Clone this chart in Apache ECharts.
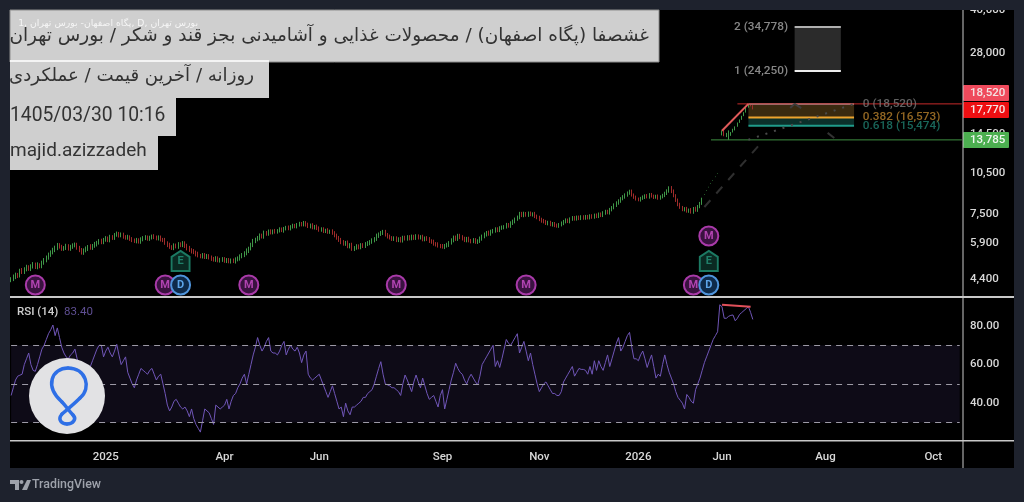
<!DOCTYPE html>
<html>
<head>
<meta charset="utf-8">
<style>html,body{margin:0;padding:0;background:#1e222d}#chart{width:1024px;height:502px}</style>
<script src="https://cdn.jsdelivr.net/npm/echarts@6/dist/echarts.min.js"></script>
</head>
<body>
<div id="chart"></div>
<script>
// Daily bars, one value per session; null marks the session with no printed bar.
const opens = [
4360,4410,4470,4550,4530,4720,4670,4770,4840,4780,4890,4960,4850,4940,4890,5030,5140,5250,5370,5480,
5590,5670,5800,5730,5630,5690,5770,5640,5730,5810,5830,5680,5590,5460,5570,5630,5740,5680,5790,5840,
5940,6020,5950,6090,6150,6050,6220,6160,6330,6390,6290,6350,6220,6180,6220,6110,6060,6000,6070,5980,
6100,6150,6200,6120,6180,6250,6200,6140,6200,6080,6070,5910,5820,5720,5670,5800,5740,5860,5810,5910,
5790,5670,5580,5530,5470,5400,5330,5290,5360,5270,5320,5240,5200,5150,5220,5120,5160,5190,5100,5150,
5080,5130,5090,5170,5210,5300,5355,5440,5550,5660,5830,6000,6100,6150,6300,6230,6440,6370,6510,6440,
6530,6480,6550,6620,6550,6650,6720,6660,6760,6820,6770,6870,6930,6880,6980,6870,6770,6850,6710,6770,
6690,6580,6630,6510,6570,6470,6520,6440,6290,6190,6070,5970,5870,5940,5750,5830,5630,5690,5760,5710,
5820,5770,5860,5910,5970,6040,6120,6270,6360,6410,6490,6330,6240,6170,6110,6160,6050,6120,6030,6190,
6120,6220,6140,6240,6160,6260,6180,6230,6090,6160,6120,6010,5980,5870,5850,5780,5770,5720,5790,5820,
5930,6040,6190,6110,6280,6200,6140,6050,6130,6030,6000,6070,5960,6020,6120,6250,6330,6440,6370,6500,
6530,6630,6560,6690,6710,6760,6870,6800,6960,7050,7190,7300,7510,7410,7520,7430,7540,7450,7510,7370,
7290,7180,7100,7050,6940,7000,6870,6930,6840,6790,6870,6940,7050,7130,7050,7190,7270,7200,7300,7230,
7320,7250,7340,7270,7380,7310,7420,7350,7490,7410,7560,7650,7570,7770,7890,8050,8200,8330,8490,8610,
8750,8890,9010,8750,8600,8470,8410,8520,8590,8700,8610,8780,8670,8600,8670,8530,8630,8710,8870,9030,
9290,9030,8700,8400,8110,7910,7760,7830,7670,7750,7610,7840,7730,7960,8170,8780,9090,9340,9600,9870,
10160,10460,null,14400,14800,14200,13785,14300,14700,14950,15400,15900,16300,16800,17300,18000,18500,18300];
const closes = [
4400,4470,4560,4520,4710,4680,4760,4830,4790,4880,4950,4860,4930,4900,5020,5150,5240,5380,5470,5600,
5680,5790,5740,5640,5680,5760,5650,5720,5800,5820,5690,5580,5470,5560,5640,5730,5690,5780,5850,5930,
6010,5960,6080,6140,6060,6210,6170,6320,6380,6300,6340,6230,6170,6210,6120,6050,6010,6060,5990,6090,
6160,6190,6130,6170,6240,6210,6150,6190,6090,6060,5920,5810,5730,5680,5790,5750,5850,5820,5900,5780,
5660,5590,5520,5480,5390,5340,5300,5350,5280,5310,5250,5190,5160,5210,5130,5150,5180,5110,5140,5090,
5120,5100,5160,5220,5290,5365,5430,5560,5650,5820,6010,6090,6160,6290,6240,6430,6380,6500,6450,6520,
6490,6540,6610,6560,6640,6710,6670,6750,6810,6780,6860,6920,6890,6970,6880,6780,6840,6720,6760,6680,
6590,6620,6520,6560,6480,6510,6430,6300,6180,6060,5960,5880,5930,5760,5820,5640,5680,5750,5720,5810,
5780,5850,5920,5960,6050,6110,6280,6350,6420,6480,6340,6230,6180,6120,6150,6060,6110,6040,6180,6130,
6210,6150,6230,6170,6250,6190,6220,6100,6150,6110,6020,5970,5880,5840,5790,5760,5730,5780,5830,5920,
6050,6180,6120,6270,6210,6130,6060,6120,6040,5990,6060,5970,6010,6130,6240,6340,6430,6380,6490,6540,
6620,6570,6680,6720,6750,6860,6810,6950,7060,7180,7290,7500,7420,7510,7440,7530,7460,7500,7360,7280,
7170,7090,7040,6950,6990,6880,6920,6830,6800,6860,6950,7040,7120,7060,7180,7260,7210,7290,7240,7310,
7260,7330,7280,7370,7320,7410,7360,7480,7420,7550,7640,7580,7760,7880,8060,8190,8340,8480,8620,8740,
8880,9000,8760,8590,8480,8420,8510,8600,8690,8620,8770,8680,8590,8660,8540,8620,8720,8860,9040,9270,
9020,8710,8390,8100,7920,7770,7820,7680,7740,7620,7830,7740,7950,8160,8480,8820,9130,9380,9640,9910,
10200,10500,null,14700,14300,14500,14100,14600,15000,15300,15800,16200,16700,17200,17900,18520,18200,17770];
const lows = [
4290,4330,4400,4440,4460,4590,4590,4690,4710,4700,4800,4780,4770,4810,4810,4950,5050,5160,5280,5390,
5490,5580,5650,5550,5550,5590,5560,5550,5640,5710,5600,5490,5380,5370,5480,5540,5600,5590,5690,5750,
5840,5860,5860,5980,5960,5950,6070,6070,6230,6190,6200,6130,6080,6080,6020,5960,5920,5900,5890,5880,
6000,6060,6030,6020,6090,6110,6050,6040,5990,5960,5830,5720,5640,5590,5580,5660,5640,5720,5720,5680,
5570,5500,5430,5400,5300,5260,5220,5210,5190,5190,5170,5110,5080,5070,5050,5040,5070,5030,5020,5010,
5000,5020,5000,5090,5120,5220,5270,5350,5450,5570,5720,5910,6000,6050,6140,6130,6280,6280,6350,6350,
6390,6390,6450,6470,6440,6560,6570,6560,6660,6680,6670,6770,6780,6780,6770,6690,6670,6620,6610,6580,
6490,6490,6420,6420,6380,6380,6330,6200,6080,5970,5860,5790,5780,5670,5660,5550,5540,5600,5620,5620,
5680,5680,5770,5810,5880,5950,6020,6170,6270,6320,6240,6140,6090,6020,6020,5960,5960,5940,5940,6040,
6030,6050,6050,6070,6070,6090,6090,6000,6000,6020,5920,5880,5790,5750,5700,5670,5650,5630,5700,5730,
5840,5950,6020,6020,6110,6040,5960,5950,5950,5900,5910,5880,5870,5920,6030,6150,6240,6280,6280,6400,
6440,6470,6470,6590,6620,6660,6710,6700,6860,6950,7100,7190,7320,7310,7340,7330,7370,7350,7260,7190,
7080,6990,6950,6860,6840,6790,6770,6740,6710,6700,6780,6850,6950,6970,6950,7100,7110,7110,7140,7140,
7160,7160,7180,7180,7220,7220,7260,7260,7320,7320,7460,7490,7470,7670,7800,7950,8100,8230,8400,8510,
8650,8790,8660,8500,8380,8330,8310,8430,8490,8530,8510,8590,8490,8510,8440,8440,8530,8620,8770,8940,
8910,8610,8290,8000,7830,7680,7670,7590,7580,7530,7520,7650,7640,7870,8090,8780,9090,9340,9600,9870,
10160,10460,null,14300,14200,14100,13785,14250,14650,14900,15350,15850,16250,16750,17250,17950,18150,17700];
const highs = [
4470,4570,4640,4630,4790,4820,4850,4950,4930,4970,5060,5040,5050,5010,5120,5230,5340,5470,5570,5690,
5790,5920,5910,5830,5770,5880,5860,5830,5900,5940,5930,5780,5680,5660,5750,5820,5860,5870,5970,6020,
6110,6130,6170,6260,6240,6330,6310,6420,6500,6480,6450,6440,6310,6330,6300,6210,6140,6170,6150,6200,
6260,6310,6290,6280,6340,6360,6290,6300,6290,6170,6170,6000,5930,5810,5900,5890,5960,5950,6010,6000,
5880,5780,5670,5630,5560,5510,5410,5450,5450,5410,5400,5340,5280,5310,5300,5240,5270,5270,5230,5230,
5210,5210,5260,5300,5390,5450,5530,5660,5740,5930,6120,6180,6270,6400,6390,6550,6530,6610,6620,6610,
6640,6630,6730,6720,6750,6810,6830,6850,6930,6920,6970,7040,7030,7090,7080,6990,6940,6960,6860,6880,
6780,6730,6730,6650,6680,6600,6620,6520,6390,6270,6170,6060,6020,6040,5910,5930,5770,5860,5850,5910,
5910,5960,6010,6060,6150,6210,6390,6450,6530,6590,6590,6420,6340,6260,6250,6250,6200,6220,6280,6280,
6310,6310,6340,6330,6360,6350,6310,6330,6240,6260,6210,6100,6080,5960,5950,5870,5870,5870,5930,6010,
6150,6290,6290,6380,6380,6310,6230,6220,6230,6120,6160,6160,6100,6240,6340,6450,6530,6550,6600,6640,
6730,6730,6790,6830,6850,6980,6970,7070,7170,7290,7410,7640,7640,7650,7630,7660,7660,7610,7640,7470,
7400,7280,7210,7150,7100,7100,7030,7030,6940,6970,7060,7150,7240,7230,7300,7380,7380,7410,7410,7430,
7430,7450,7450,7490,7490,7530,7540,7600,7600,7680,7770,7770,7890,8010,8190,8330,8470,8620,8760,8890,
9030,9160,9170,8880,8730,8590,8640,8740,8820,8840,8910,8920,8800,8790,8810,8750,8860,9010,9190,9420,
9440,9180,8830,8520,8230,8020,7940,7960,7850,7880,7950,7970,8080,8290,8580,8820,9130,9380,9640,9910,
10200,10500,null,14900,14900,14600,14900,14700,15100,15400,15900,16300,16800,17300,18000,18520,18520,18330];
const rsiValues = [
44,48,52,54,54.5,55,60,63,66,60,57,56.5,60,64,68,70,73,76,78,80.5,
75,79,74,69,66,64,63,65,66,68,63,60,59.5,59,59,58.5,59,62,65,68,
70,70,64,67,69,66,64,67,70.5,65,60,62,64,56,53,50,48,52,55,58,
57,56,55,57,58,55,52,54,55,50,45,39,36,38,41,42,40,38,37,38,
36,33,37,32,29,27,25,31,37,36,35,32,29,39,38,37,38,39,42,37,
41,44,45,48,50,53,55,50,55,60,65,69,74,70,67,69,72,74,67,66,
66,65,67,70,72,65,68,70,68,67,69,66,61,65,67,55,53,52,53,54,
55,52,49,46,43,46,49,45,41,37,38,33,40,36,34,38,38,39,40,41,
43,43,45,46,47,50,54,58,61.5,55,50,49.5,49,48,48,47,46,44,50,54.6,
52,49,46,51,54.6,51,48,53,49,45,42,43,44,41,38,44,47,37,42,47,
52,56,60.7,58,56,55,52,50,53,55,53,51,49.5,54,60,62,64,66,68,70,
59,62,58.5,63,68,73,71,70,72,74,76,66,69,72,67,62,66,60,55,50,
46,48,50,51,49,47,45,45,44,44,46,51,53,55,57,59,54,56,58,57.5,
57.5,57,55,59,55,62,57,62,59,57,61,65,59,63,67,71,74,67,69,72,
75,76.7,69,63,63,62,65,67,63,58.5,62,65,59,53,55,54,60,65,60,56,
53,50,46,43,41.5,40,37,44.5,43,41,40,47,50,53,57,61,64,67,70,73,
75,77,91,90,84,84,85,85.5,85.7,82.7,84,86,87,88,89,90,87,83.4];

// Time axis: sessions plus the blank space to the right of the last bar
const sessionCount = 433;
const timeTickIndex = [43, 97, 140, 196, 240, 285, 323, 370, 419];
const timeTickLabels = ['2025', 'Apr', 'Jun', 'Sep', 'Nov', '2026', 'Jun', 'Aug', 'Oct'];

const priceTicks = [4400, 5900, 7500, 10500, 14500, 28000, 40000];
const rsiTicks = [40, 60, 80];
const rsiBands = [70, 50, 30];

const priceTags = [18520, 17770, 13785];
const fibLevels = ['0', '0.382', '0.618'];
const fibPrices = [18520, 16573, 15474];
const targetLevels = ['2', '1'];
const targetPrices = [34778, 24250];

const monthEvents = [11, 70, 108, 175, 234, 310];
const earningsEvents = [77, 317];
const dividendEvents = [77, 317];
const lateMonthEvent = [317];
const lastRsi = 83.40;

const fmt = v => v.toLocaleString('en-US');
const FONT = 'Roboto';
const PANEL = '#1e222d';
const categories = Array.from({length: sessionCount}, (_, i) => String(i));
const bars = opens.map((o, i) => o === null ? ['-', '-', '-', '-'] : [o, closes[i], lows[i], highs[i]]);

// Straight drawing-tool segment on the price or RSI pane
function segment(points, color, width, type, pane) {
  return {
    type: 'line', xAxisIndex: pane || 0, yAxisIndex: pane || 0, data: points, silent: true,
    symbol: 'none', clip: false, z: 4, animation: false,
    lineStyle: {color, width, type: type || 'solid'}
  };
}
function pointMarker(level, indexes, symbol, size, fill, stroke, text, textColor) {
  return {
    type: 'scatter', xAxisIndex: 0, yAxisIndex: 0, silent: true, animation: false, z: 6, clip: false,
    data: indexes.map(i => [i, level]), symbol, symbolSize: size,
    itemStyle: {color: fill, borderColor: stroke, borderWidth: 2, opacity: 1},
    label: {show: true, position: 'inside', formatter: text, color: textColor, fontFamily: FONT, fontSize: 11, fontWeight: 'bold'}
  };
}
const BOTTOM_MARK = 4194, ROW2_MARK = 5107, ROW3_MARK = 6266;
const tagStyle = [
  {fill: '#ef4a5c', shift: -11, text: '#f3e4e4'},
  {fill: '#ee0f12', shift: 1, text: '#f7e6e6'},
  {fill: '#4caf50', shift: 0, text: '#eef6ee'}
];
const fibColors = ['#7a7a7a', '#b8812c', '#1f7f70'];
// Round-badge glyph, traced as cubic pieces
const badgeCurves = [
  [62, 402, 44, 386, 52, 368, 68, 368],
  [68, 368, 86, 368, 92, 388, 80, 398],
  [80, 398, 74, 404, 68, 409, 62, 414],
  [62, 414, 57, 420, 62, 424, 67, 424],
  [67, 424, 73, 424, 77, 419, 73, 415],
  [73, 415, 69, 411, 66, 406, 62, 402]
];
const scaleLabel = {color: '#d8d8d8', fontFamily: FONT, fontSize: 11.5, fontWeight: 500, margin: 7};

const option = {
  backgroundColor: PANEL,
  animation: false,
  grid: [
    {left: 10, top: 10, width: 953, height: 287},
    {left: 10, top: 298, width: 953, height: 143}
  ],
  xAxis: [
    {type: 'category', gridIndex: 0, data: categories, show: false},
    {type: 'category', gridIndex: 1, data: categories,
      axisLine: {show: false}, axisTick: {show: false},
      axisLabel: {
        interval: i => timeTickIndex.includes(i),
        formatter: (v, i) => timeTickLabels[timeTickIndex.indexOf(i)] || '',
        color: '#d8d8d8', fontFamily: FONT, fontSize: 11.5, fontWeight: 500, margin: 10, hideOverlap: false
      }}
  ],
  yAxis: [
    {type: 'log', gridIndex: 0, position: 'right', min: 3800, max: 40000, logBase: 10,
      axisLine: {show: false}, axisTick: {show: false}, splitLine: {show: false}, minorSplitLine: {show: false},
      axisLabel: {...scaleLabel, customValues: priceTicks, formatter: fmt}},
    {type: 'value', gridIndex: 1, position: 'right', min: 20.4, max: 94.5,
      axisLine: {show: false}, axisTick: {show: false}, splitLine: {show: false},
      axisLabel: {...scaleLabel, customValues: rsiTicks, formatter: v => v.toFixed(2)}}
  ],
  series: [
    // Fibonacci and target zones
    {type: 'line', xAxisIndex: 0, yAxisIndex: 0, data: [], silent: true, z: 1,
      markArea: {silent: true, data: [
        [{xAxis: 335, yAxis: fibPrices[0], itemStyle: {color: '#3a2a10'}}, {xAxis: 383, yAxis: fibPrices[1]}],
        [{xAxis: 335, yAxis: fibPrices[1], itemStyle: {color: '#0b302b'}}, {xAxis: 383, yAxis: fibPrices[2]}],
        [{xAxis: 356, yAxis: targetPrices[0], itemStyle: {color: '#2b2b2b'}}, {xAxis: 377, yAxis: targetPrices[1]}]
      ]}},
    {type: 'candlestick', xAxisIndex: 0, yAxisIndex: 0, data: bars, barWidth: 1, silent: true, z: 3,
      progressive: 0, animation: false,
      itemStyle: {color: '#3f9748', color0: '#a02c2a', borderColor: '#3f9748', borderColor0: '#a02c2a', borderWidth: 1}},

    segment([[335, fibPrices[0]], [383, fibPrices[0]]], '#8a8a8a', 2),
    segment([[335, fibPrices[1]], [383, fibPrices[1]]], '#eda32e', 2),
    segment([[335, fibPrices[2]], [383, fibPrices[2]]], '#1f9b8a', 2),
    segment([[356, targetPrices[0]], [377, targetPrices[0]]], '#b0b0b0', 2),
    segment([[356, targetPrices[1]], [377, targetPrices[1]]], '#ececec', 2),
    segment([[330, priceTags[0]], [432, priceTags[0]]], '#c62a2a', 1),
    segment([[318, priceTags[2]], [432, priceTags[2]]], '#3e8e41', 1),
    segment([[323, 14850], [335, 18520]], '#e05a5a', 2),
    segment([[315, 7950], [342, 13800]], '#2f2f2f', 2, [9, 9]),
    segment([[335, 13800], [383, 18520]], '#4a4a4a', 2, [2, 7]),
    segment([[371, 14600], [374, 14000]], '#333333', 2),
    segment([[354, 17900], [356, 18520], [359, 17900]], '#3d3d3d', 2),

    // Level captions
    {type: 'scatter', xAxisIndex: 0, yAxisIndex: 0, silent: true, symbolSize: 0, z: 5, clip: false,
      data: fibPrices.map((p, i) => ({value: [387, p], name: `${fibLevels[i]} (${fmt(p)})`,
        label: {color: fibColors[i]}})),
      label: {show: true, position: 'right', distance: 0, formatter: '{b}', fontFamily: FONT, fontSize: 11.8, fontWeight: 500}},
    {type: 'scatter', xAxisIndex: 0, yAxisIndex: 0, silent: true, symbolSize: 0, z: 5, clip: false,
      data: targetPrices.map((p, i) => ({value: [353, p], name: `${targetLevels[i]} (${fmt(p)})`})),
      label: {show: true, position: 'left', distance: 0, formatter: '{b}', color: '#a8a8a8', fontFamily: FONT, fontSize: 11.8, fontWeight: 500}},

    // Event badges
    pointMarker(BOTTOM_MARK, monthEvents, 'circle', 19, '#3a1240', '#a93aa9', 'M', '#b043b0'),
    pointMarker(ROW3_MARK, lateMonthEvent, 'circle', 19, '#3a1240', '#a93aa9', 'M', '#b043b0'),
    pointMarker(ROW2_MARK, earningsEvents, 'path://M12 0 L24 8 L24 27 L0 27 L0 8 Z', [18, 20], '#0a2a22', '#1c7a63', 'E', '#20806a'),
    pointMarker(BOTTOM_MARK, dividendEvents, 'circle', 19, '#0e2a4a', '#4f94dc', 'D', '#5da5ea'),

    // Value tags in the price column
    {type: 'custom', xAxisIndex: 0, yAxisIndex: 0, silent: true, z: 20, clip: false,
      encode: {x: 0, y: 1},
      data: priceTags.map((p, i) => [0, p, i]),
      renderItem(params, api) {
        const i = api.value(2), s = tagStyle[i], price = api.value(1);
        const y = api.coord([0, price])[1] + s.shift;
        const x = params.coordSys.x + params.coordSys.width;
        return {type: 'group', children: [
          {type: 'rect', shape: {x, y: y - 8, width: 46, height: 16, r: 1}, style: {fill: s.fill}},
          {type: 'text', style: {x: x + 7, y, text: fmt(price), fill: s.text, font: '500 11.5px ' + FONT, textVerticalAlign: 'middle'}}
        ]};
      }},

    // RSI pane
    {type: 'line', xAxisIndex: 1, yAxisIndex: 1, data: rsiValues, symbol: 'none', silent: true, z: 3,
      lineStyle: {color: '#7056b8', width: 1},
      markArea: {silent: true, data: [[{xAxis: 0, yAxis: rsiBands[0], itemStyle: {color: '#0e0b17'}}, {xAxis: 431, yAxis: rsiBands[2]}]]},
      markLine: {silent: true, symbol: 'none', label: {show: false},
        lineStyle: {color: '#9d9aa6', type: [6, 5], width: 1},
        data: rsiBands.map(v => [{xAxis: 0, yAxis: v}, {xAxis: 431, yAxis: v}])}},
    segment([[323, 91], [336, 90]], '#e0505a', 2, 'solid', 1)
  ],
  graphic: {elements: [
    // Chart surface under the series
    {type: 'rect', z: -10, shape: {x: 10, y: 10, width: 1004, height: 458}, style: {fill: '#000'}},
    // Strip that trims the topmost scale label
    {type: 'rect', z: 30, shape: {x: 0, y: 0, width: 1024, height: 10}, style: {fill: PANEL}},
    // Pane separators
    {type: 'rect', z: 31, shape: {x: 10, y: 296, width: 1004, height: 2}, style: {fill: '#c9c9c9'}},
    {type: 'rect', z: 31, shape: {x: 10, y: 440, width: 1004, height: 1.5}, style: {fill: '#c9c9c9'}},
    {type: 'rect', z: 31, shape: {x: 962.5, y: 10, width: 1, height: 458}, style: {fill: '#c9c9c9'}},

    // Heading panels
    {type: 'rect', z: 40, shape: {x: 10, y: 10, width: 649, height: 52}, style: {fill: '#cfcfcf', stroke: '#8d8d8d', lineWidth: 1}},
    {type: 'rect', z: 41, shape: {x: 10, y: 61, width: 259, height: 37}, style: {fill: '#cfcfcf'}},
    {type: 'rect', z: 42, shape: {x: 10, y: 60, width: 259, height: 2}, style: {fill: '#f4f4f4'}},
    {type: 'rect', z: 41, shape: {x: 10, y: 98, width: 166, height: 38}, style: {fill: '#cfcfcf'}},
    {type: 'rect', z: 41, shape: {x: 10, y: 136, width: 148, height: 34}, style: {fill: '#cfcfcf'}},
    {type: 'text', z: 45, style: {x: 649, y: 36, text: 'غشصفا (پگاه اصفهان) / محصولات غذایی و آشامیدنی بجز قند و شکر / بورس تهران',
      font: '18.45px "DejaVu Sans"', fill: '#333', textAlign: 'right', textVerticalAlign: 'middle'}},
    {type: 'text', z: 45, style: {x: 254, y: 76, text: 'روزانه / آخرین قیمت / عملکردی',
      font: '18.2px "DejaVu Sans"', fill: '#333', textAlign: 'right', textVerticalAlign: 'middle'}},
    {type: 'text', z: 45, style: {x: 10, y: 116, text: '1405/03/30 10:16', font: '19.3px Roboto', fill: '#333', textVerticalAlign: 'middle'}},
    {type: 'text', z: 45, style: {x: 10, y: 151, text: 'majid.azizzadeh', font: '19px Roboto', fill: '#333', textVerticalAlign: 'middle'}},
    {type: 'text', z: 46, style: {x: 198, y: 24, text: '\u202Bبورس تهران ,D ,پگاه اصفهان- بورس تهران ,1\u202C',
      font: '9.3px "DejaVu Sans"', fill: '#f5f5f5', textAlign: 'right', textVerticalAlign: 'middle'}},

    // RSI legend
    {type: 'text', z: 32, style: {x: 17, y: 312, text: 'RSI (14)', font: '500 11.5px Roboto', fill: '#cfcfcf', textVerticalAlign: 'middle'}},
    {type: 'text', z: 32, style: {x: 64, y: 312, text: lastRsi.toFixed(2), font: '11.5px Roboto', fill: '#5f4f93', textVerticalAlign: 'middle'}},

    // Round brand badge over the RSI pane
    {type: 'circle', z: 50, shape: {cx: 67, cy: 396, r: 38}, style: {fill: '#e2e2e4'}},
    ...badgeCurves.map(c => ({type: 'bezierCurve', z: 51,
      shape: {x1: c[0], y1: c[1], cpx1: c[2], cpy1: c[3], cpx2: c[4], cpy2: c[5], x2: c[6], y2: c[7]},
      style: {fill: 'none', stroke: '#2e6fe6', lineWidth: 3.5, lineCap: 'round'}})),

    // Footer mark
    {type: 'polygon', z: 50, shape: {points: [[10, 480], [19, 480], [19, 490], [15, 490], [15, 484], [10, 484]]}, style: {fill: '#9ea2ab'}},
    {type: 'polygon', z: 50, shape: {points: [[27, 480], [31, 480], [27, 490], [22, 490]]}, style: {fill: '#9ea2ab'}},
    {type: 'circle', z: 50, shape: {cx: 21.5, cy: 482, r: 2}, style: {fill: '#9ea2ab'}},
    {type: 'text', z: 50, style: {x: 32, y: 485, text: 'TradingView', font: '500 12.4px Roboto', fill: '#9ea2ab', textVerticalAlign: 'middle'}}
  ]}
};
const chart = echarts.init(document.getElementById('chart'), null, {renderer: 'canvas'});
chart.setOption(option);
</script>
</body>
</html>
